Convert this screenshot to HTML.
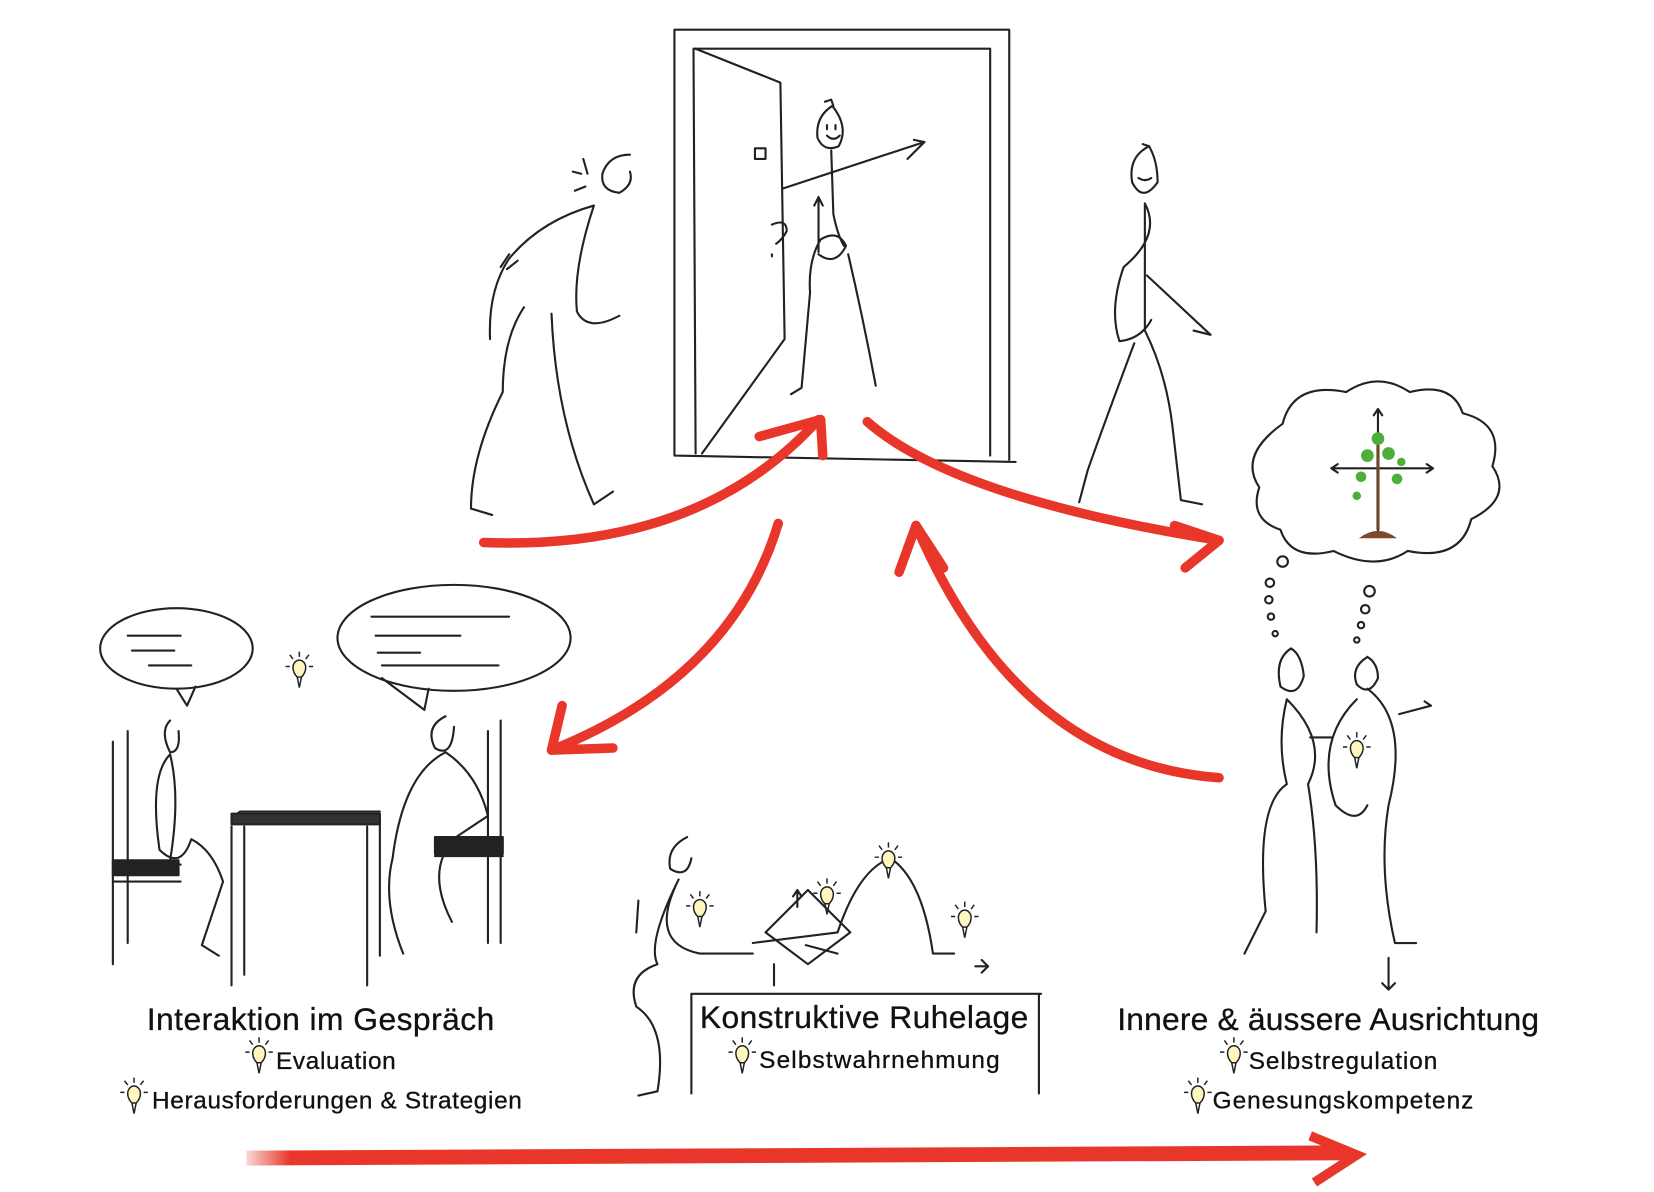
<!DOCTYPE html>
<html><head><meta charset="utf-8"><style>
html,body{margin:0;padding:0;background:#fff;}
svg{display:block;}
text{font-family:"Liberation Sans",sans-serif;fill:#111;stroke:#111;stroke-width:0.3;}
</style></head><body>
<svg width="1654" height="1192" viewBox="0 0 1560 1125" xmlns="http://www.w3.org/2000/svg">
<defs>
<linearGradient id="fade" x1="0" x2="1"><stop offset="0" stop-color="#e8372a" stop-opacity="0.2"/><stop offset="0.04" stop-color="#e8372a"/><stop offset="1" stop-color="#e8372a"/></linearGradient>
<g id="bulb" fill="none" stroke="#222" stroke-width="1.4"><path d="M-6,-2 a6,7 0 1,1 12,0 q0,5 -4,9 h-4 q-4,-4 -4,-9z" fill="#fff6c0"/><path d="M-2,7 l2,10 2,-10"/><path d="M-9,-14 l3,4 M0,-17 v5 M9,-14 l-3,4 M-13,-3 h4 M13,-3 h-4"/></g>
</defs>
<g fill="none" stroke="#222" stroke-width="2" stroke-linecap="round" stroke-linejoin="round">
<path d="M636,28 L952,28 L952,434 M636,28 L636,430 L958,436 M654,46 L934,46 L934,430 M654,46 L656,428"/>
<path d="M656,46 L736,78 L740,320 L662,428"/>
<path d="M712,140 h10 v10 h-10z"/>
<path d="M728,212 q14,-6 14,6 q-4,8 -10,12 M728,240 l0,2"/>
<path d="M785,100 q-16,10 -14,30 q6,14 20,8 q10,-18 -6,-38 M778,96 l6,-2 2,6 M780,128 q6,6 12,0 M780,118 v4 M788,118 v4"/>
<path d="M784,142 l2,60 q4,20 10,30 M738,178 L872,134 l-16,16 M872,134 l-10,-2"/>
<path d="M772,240 q16,12 26,-8 q-8,-16 -24,-6 q-12,20 -10,50 l-8,90 l-10,6 M772,238 l0,-52 l-4,8 m4,-8 l4,8 M800,240 q14,60 26,124"/>
<path d="M594,146 q-20,0 -26,18 q-2,16 16,18 q14,-8 10,-20 M548,164 l-8,-2 M552,176 l-10,4 M550,150 l4,14"/>
<path d="M560,194 q-50,14 -80,50 q-20,30 -18,76 M560,194 q-20,60 -16,100 q10,20 40,4 M494,290 q-20,30 -20,80 q-30,60 -30,110 l20,6 M520,296 q4,100 40,180 l18,-12"/>
<path d="M480,240 l-8,12 M488,246 l-10,8"/>
<path d="M1084,138 q-20,10 -16,34 q10,20 24,0 q0,-20 -8,-34 l-6,-2 M1074,168 q6,4 12,0"/>
<path d="M1080,192 q16,30 -20,60 q-14,40 -4,70 q20,-2 30,-20 M1080,192 q0,80 0,120 q20,40 26,90 l8,70 l20,4 M1070,324 q-30,80 -44,120 l-8,30 M1082,260 l60,56 l-16,-4"/>
<path d="M1210,400 q10,-40 60,-30 q30,-20 60,0 q40,-10 50,20 q40,10 28,50 q20,30 -20,50 q-10,40 -60,30 q-30,20 -70,0 q-40,10 -50,-20 q-30,-10 -20,-40 q-20,-30 22,-60z"/>
<path d="M1300,388 v116 M1256,442 h96 M1296,392 l4,-6 4,6 M1262,438 l-6,4 6,4 M1346,438 l6,4 -6,4"/>
<circle cx="1210" cy="530" r="5"/><circle cx="1198" cy="550" r="4"/><circle cx="1197" cy="566" r="3.5"/><circle cx="1199" cy="582" r="3"/><circle cx="1203" cy="598" r="2.5"/>
<circle cx="1292" cy="558" r="5"/><circle cx="1288" cy="575" r="4"/><circle cx="1284" cy="590" r="3"/><circle cx="1280" cy="604" r="2.5"/>
<path d="M1218,612 q-16,10 -10,36 q16,12 22,-10 q-2,-20 -12,-26 M1290,620 q-16,10 -10,26 q12,12 20,-6 q0,-14 -10,-20"/>
<path d="M1214,660 q-10,40 0,80 q-30,20 -20,120 l-20,40 M1214,660 q40,40 20,80 q10,60 8,140 M1290,650 q40,30 20,110 q-10,60 6,130 h20 M1280,660 q-40,40 -20,100 q20,20 30,0 M1320,674 l30,-8 -6,-4 M1236,696 h20 M1310,904 v30 l-6,-6 m6,6 l6,-6"/>
<ellipse cx="166" cy="612" rx="72" ry="38"/><path d="M166,650 l10,16 8,-18"/>
<ellipse cx="428" cy="602" rx="110" ry="50"/><path d="M360,640 l40,30 4,-20"/>
<path d="M120,600 h50 M124,614 h40 M140,628 h40 M350,582 h130 M354,600 h80 M356,616 h40 M360,628 h110"/>
<path d="M106,700 v210 M120,690 v200 M106,816 h64 M106,832 h64 M218,772 h140 M218,780 v150 M230,780 v140 M346,780 v150 M358,772 v130 M410,794 h64 M410,808 h64 M472,680 v210 M460,690 v200 M218,772 l8,-6 h132"/>
<path d="M106,812 h62 v14 h-62z M410,790 h64 v16 h-64z" fill="#222"/>
<path d="M218,768 h140 v10 h-140z" fill="#333"/>
<path d="M160,680 q-10,10 0,30 q10,0 8,-20 M160,712 q-20,20 -10,90 q20,20 30,-10 q20,10 30,40 l-20,60 l16,10 M160,712 q10,40 0,100"/>
<path d="M420,676 q-20,10 -10,30 q16,10 18,-20 M420,710 q-40,20 -50,100 q-10,40 10,90 M420,710 q30,20 40,60 l-30,20 q-30,30 -4,80"/>
<path d="M648,790 q-20,10 -16,30 q16,10 20,-10 M640,830 q-30,60 20,70 h50 M640,830 q-30,60 -20,80 q-30,10 -20,40 q30,20 20,80 l-18,4 M600,880 l2,-30"/>
<path d="M710,890 l80,-10 q20,-60 50,-70 q30,20 40,90 h20 M722,880 l40,-40 40,40 -40,30z M790,900 l-30,-8 M920,912 h12 l-6,-6 m6,6 l-6,6 M730,910 v20 M752,856 v-16 l-4,6 m4,-6 l4,6"/>
<path d="M652,938 h330 M652,938 v94 M980,938 v94"/>
</g>
<g transform="translate(282,632)"><use href="#bulb"/></g>
<g transform="translate(660,858)"><use href="#bulb"/></g>
<g transform="translate(780,846)"><use href="#bulb"/></g>
<g transform="translate(838,812)"><use href="#bulb"/></g>
<g transform="translate(910,868)"><use href="#bulb"/></g>
<g transform="translate(1280,708)"><use href="#bulb"/></g>
<path d="M1300,420 v80" stroke="#6b4a2a" stroke-width="3"/><path d="M1282,508 q18,-14 36,0z" fill="#7a4a2a"/>
<g fill="#4caf3a"><circle cx="1290" cy="430" r="6"/><circle cx="1310" cy="428" r="6"/><circle cx="1300" cy="414" r="6"/><circle cx="1284" cy="450" r="5"/><circle cx="1318" cy="452" r="5"/><circle cx="1322" cy="436" r="4"/><circle cx="1280" cy="468" r="4"/></g>
<g fill="none" stroke="#e8372a" stroke-width="9" stroke-linecap="round" stroke-linejoin="round">
<path d="M456,512 Q660,520 772,396"/><path d="M716,412 L774,396 L776,430"/>
<path d="M818,398 Q900,470 1150,510"/><path d="M1108,496 L1150,510 L1118,536"/>
<path d="M734,494 Q690,640 520,708"/><path d="M530,666 L520,708 L578,706"/>
<path d="M1150,734 Q960,720 864,496"/><path d="M848,540 L864,496 L890,536"/>
</g>
<path d="M232,1093 L1270,1088" stroke="url(#fade)" stroke-width="14"/>
<path d="M1236,1072 L1280,1090 L1240,1116" fill="none" stroke="#e8372a" stroke-width="9"/>
<text x="302" y="972" font-size="30" text-anchor="middle" textLength="328">Interaktion im Gespräch</text>
<text x="260" y="1009" font-size="23" textLength="113">Evaluation</text>
<text x="143" y="1046" font-size="23" textLength="349">Herausforderungen &amp; Strategien</text>
<text x="815" y="970" font-size="30" text-anchor="middle" textLength="310">Konstruktive Ruhelage</text>
<text x="716" y="1008" font-size="23" textLength="227">Selbstwahrnehmung</text>
<text x="1253" y="972" font-size="30" text-anchor="middle" textLength="398">Innere &amp; äussere Ausrichtung</text>
<text x="1178" y="1009" font-size="23" textLength="178">Selbstregulation</text>
<text x="1144" y="1046" font-size="23" textLength="246">Genesungskompetenz</text>
<g transform="translate(244,996)"><use href="#bulb"/></g>
<g transform="translate(126,1034)"><use href="#bulb"/></g>
<g transform="translate(700,996)"><use href="#bulb"/></g>
<g transform="translate(1164,996)"><use href="#bulb"/></g>
<g transform="translate(1130,1034)"><use href="#bulb"/></g>
</svg>
</body></html>
